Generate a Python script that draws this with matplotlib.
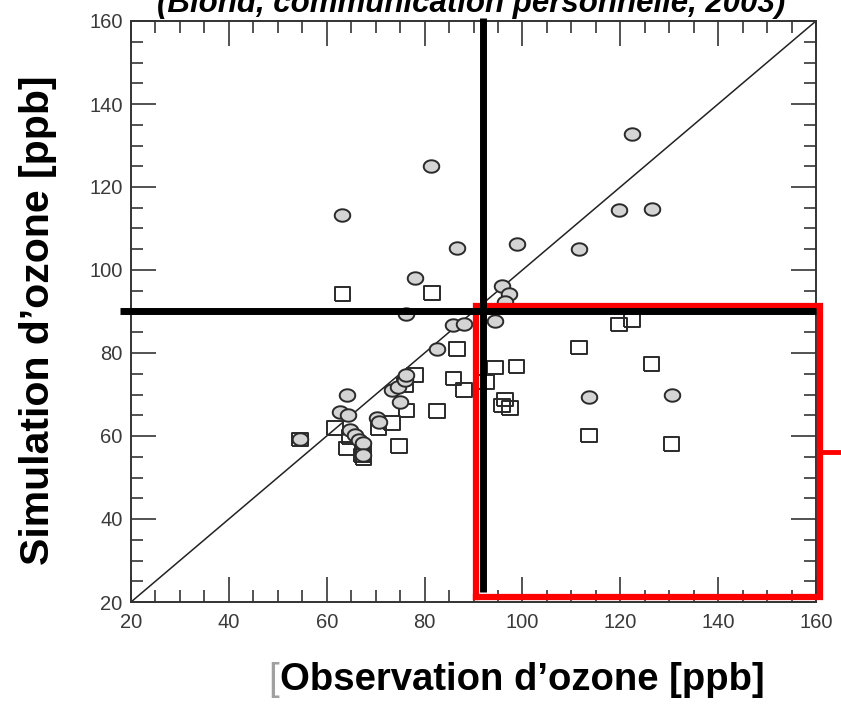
import matplotlib
matplotlib.use("Agg")
import matplotlib.pyplot as plt
import numpy as np
from matplotlib.ticker import MultipleLocator

circle_obs = [54.5, 62.7, 64.1, 64.4, 64.8, 65.8, 66.5, 67.5, 67.5, 70.2, 70.6, 73.3,
              74.6, 75.0, 76.0, 76.3, 76.3, 78.0, 63.1, 81.4, 82.5, 85.9, 88.1, 86.6,
              94.3, 95.8, 97.3, 96.5, 98.8, 111.6, 113.6, 119.7, 122.4, 126.4, 130.5]
circle_sim = [59.2, 65.9, 69.9, 65.1, 61.4, 60.2, 59.0, 58.2, 55.5, 64.3, 63.4, 71.1,
              71.9, 68.3, 73.5, 74.7, 89.4, 98.0, 113.3, 125.1, 81.0, 86.7, 86.9, 105.2,
              87.8, 96.2, 94.2, 92.3, 106.2, 105.0, 69.3, 114.5, 132.7, 114.7, 69.9]

square_obs = [54.5, 61.7, 64.1, 64.8, 67.5, 67.5, 67.2, 70.6, 73.3, 74.8, 76.3, 76.0,
              78.0, 82.5, 85.9, 88.1, 86.6, 92.5, 94.4, 98.8, 96.4, 95.8, 97.5, 111.6,
              113.6, 119.7, 122.4, 126.4, 130.5, 63.2, 81.5]
square_sim = [59.2, 61.9, 57.0, 59.8, 56.6, 54.6, 55.3, 61.9, 63.1, 57.6, 66.1, 72.3,
              74.7, 66.0, 73.9, 71.1, 81.0, 73.0, 76.5, 76.7, 68.8, 67.3, 66.7, 81.3,
              60.1, 86.9, 88.0, 77.3, 58.1, 94.2, 94.4]

axis_min, axis_max = 20, 160
threshold_obs = 92
threshold_sim = 90
# red highlight box (data units) and the small red stub leaving it on the right
box_x = [90.5, 160.8]
box_y = [21.2, 91.3]
stub_x = [160.8, 166.0]
stub_y = 56.1

title = "(Blond, communication personnelle, 2003)"
ylabel = "Simulation d\u2019ozone [ppb]"
xlabel = "Observation d\u2019ozone [ppb]"

plt.rcParams["font.family"] = ["Liberation Sans", "DejaVu Sans"]

W, H = 841, 715
fig = plt.figure(figsize=(W / 100, H / 100), dpi=100)
ax = fig.add_axes([131 / W, 1 - 602 / H, 685 / W, 581 / H])

# slightly flattened markers, like the stretched original
t = np.linspace(0, 2 * np.pi, 60)
ellipse = np.column_stack([np.cos(t), 0.8 * np.sin(t)])
rect = [(-1, -0.87), (1, -0.87), (1, 0.87), (-1, 0.87), (-1, -0.87)]

ax.plot([axis_min, axis_max], [axis_min, axis_max], color="#222222", lw=1.1, zorder=2)
ax.scatter(square_obs, square_sim, marker=rect, s=11.2 ** 2, facecolors="none",
           edgecolors="#2a2a2a", linewidths=1.4, zorder=3)
ax.scatter(circle_obs, circle_sim, marker=ellipse, s=11.2 ** 2, facecolors="#d4d4d4",
           edgecolors="#2a2a2a", linewidths=1.4, zorder=4)

ax.set_xlim(axis_min, axis_max)
ax.set_ylim(axis_min, axis_max)
ax.xaxis.set_major_locator(MultipleLocator(20))
ax.yaxis.set_major_locator(MultipleLocator(20))
ax.xaxis.set_minor_locator(MultipleLocator(5))
ax.yaxis.set_minor_locator(MultipleLocator(5))
ax.tick_params(which="both", direction="in", top=True, right=True, color="#444444",
               width=1.3, labelcolor="#3a3a3a", labelsize=14.5)
ax.tick_params(which="major", length=18)
ax.tick_params(which="minor", length=8.5)
ax.tick_params(axis="x", pad=8)
ax.tick_params(axis="y", pad=6)
for spine in ax.spines.values():
    spine.set_color("#333333")
    spine.set_linewidth(1.4)

# red highlight box
ax.plot([box_x[0], box_x[1], box_x[1], box_x[0], box_x[0]],
        [box_y[0], box_y[0], box_y[1], box_y[1], box_y[0]],
        color="#ff0000", lw=4.5, solid_joinstyle="miter", clip_on=False, zorder=5)
ax.plot(stub_x, [stub_y, stub_y], color="#ff0000", lw=3.5, clip_on=False, zorder=5)

# black threshold lines
ax.plot([threshold_obs, threshold_obs], [160.8, 22.5], color="black", lw=5,
        solid_capstyle="butt", clip_on=False, zorder=6)
ax.plot([17.7, axis_max], [threshold_sim, threshold_sim], color="black", lw=5,
        solid_capstyle="butt", clip_on=False, zorder=6)

# texts (the title is cut by the top edge in the reference too)
fig.text(471 / W, 1 - 12 / H, title, ha="center", va="baseline", fontsize=22.5,
         fontweight="bold", fontstyle="italic")
fig.text(38 / W, 1 - 320 / H, ylabel, rotation=90, ha="center", va="center",
         fontsize=29.5, fontweight="bold")
fig.text(280 / W, 1 - 680 / H, xlabel, ha="left", va="center", fontsize=27.5,
         fontweight="bold")
fig.text(279 / W, 1 - 680 / H, "[", ha="right", va="center", fontsize=27.5,
         color="#a0a0a0")

fig.savefig("out.png", dpi=100)
